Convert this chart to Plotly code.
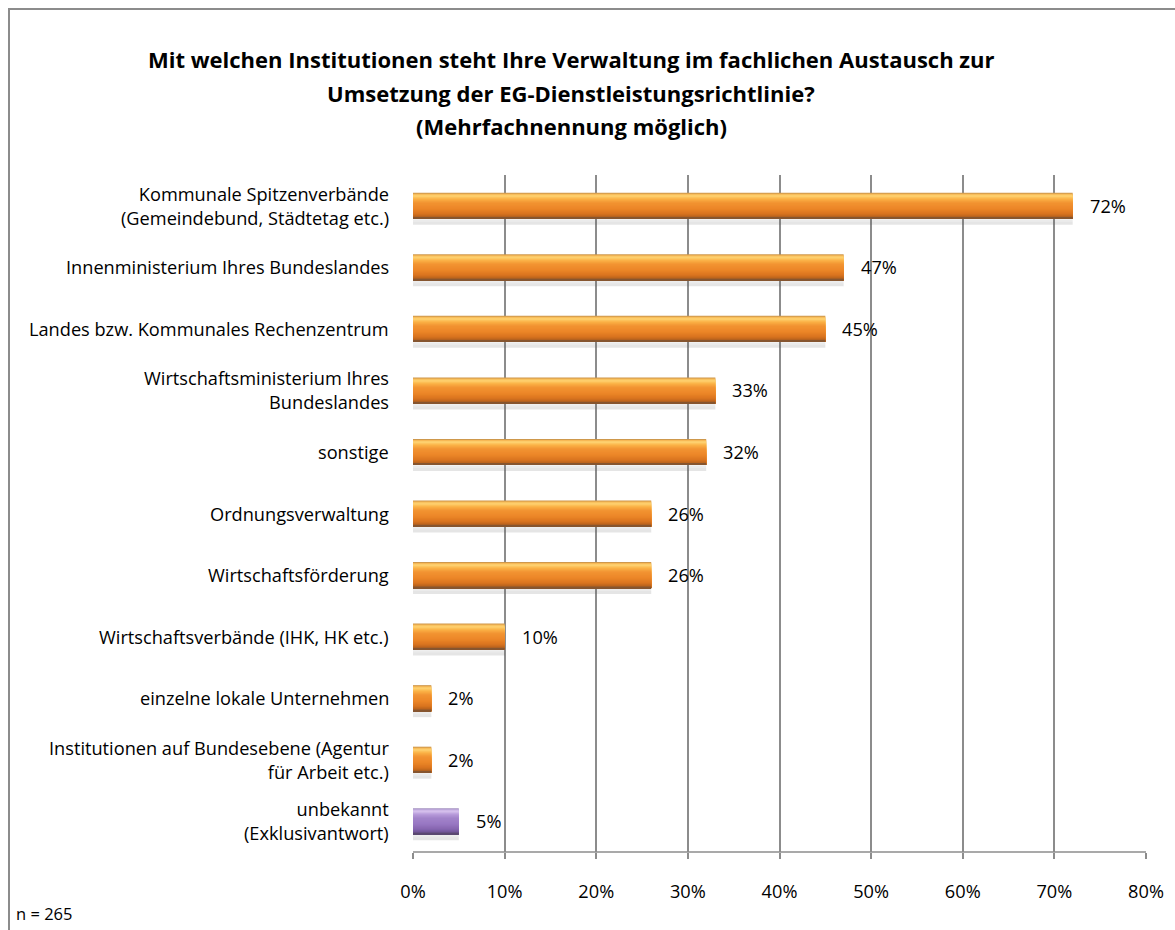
import plotly.graph_objects as go

# ---- data ---------------------------------------------------------------
categories = [
    "Kommunale Spitzenverbände<br>(Gemeindebund, Städtetag etc.)",
    "Innenministerium Ihres Bundeslandes",
    "Landes bzw. Kommunales Rechenzentrum",
    "Wirtschaftsministerium Ihres<br>Bundeslandes",
    "sonstige",
    "Ordnungsverwaltung",
    "Wirtschaftsförderung",
    "Wirtschaftsverbände (IHK, HK etc.)",
    "einzelne lokale Unternehmen",
    "Institutionen auf Bundesebene (Agentur<br>für Arbeit etc.)",
    "unbekannt<br>(Exklusivantwort)",
]
values = [72, 47, 45, 33, 32, 26, 26, 10, 2, 2, 5]
is_exclusive = [False] * 10 + [True]
x_ticks = [0, 10, 20, 30, 40, 50, 60, 70, 80]
x_tick_labels = [f"{t}%" for t in x_ticks]

title_lines = [
    "Mit welchen Institutionen steht Ihre Verwaltung im fachlichen Austausch zur",
    "Umsetzung der EG-Dienstleistungsrichtlinie?",
    "(Mehrfachnennung möglich)",
]
note_text = "n = 265"

# ---- layout geometry (pixels) -------------------------------------------
W, H = 1175, 930
PL, PR, PT, PB = 413, 1146, 175, 852          # plot area edges
FONT = "Open Sans"
LABEL_SIZE = 18.2
GRID = "#8C8C8C"

def px_x(px):
    return (px - PL) / (PR - PL)

def px_y(py):
    return (PB - py) / (PB - PT)

n = len(categories)
slot = (PB - PT) / n          # pixels per category
bar_px = 26                   # bar thickness in pixels

# colour stops across the bar thickness (px from top edge) for a glossy look
orange_stops = [(0, "#A8834F"), (1, "#F4AE4A"), (3, "#FFD676"), (6, "#FBB347"),
                (10, "#F29332"), (16, "#EC8627"), (21, "#D9741F"), (24, "#B8621C"),
                (25, "#86552F")]
purple_stops = [(0, "#8E80A8"), (1, "#BCA3DA"), (3, "#D9C6F0"), (6, "#B89BDA"),
                (10, "#A283CA"), (16, "#9877C2"), (21, "#8565B0"), (24, "#6F5494"),
                (25, "#5A4870")]

def hex_rgb(h):
    return tuple(int(h[i:i + 2], 16) for i in (1, 3, 5))

def colour_at(stops, p):
    for (p0, c0), (p1, c1) in zip(stops, stops[1:]):
        if p0 <= p <= p1:
            t = (p - p0) / (p1 - p0)
            a, b = hex_rgb(c0), hex_rgb(c1)
            return "rgb(%d,%d,%d)" % tuple(round(a[k] + (b[k] - a[k]) * t) for k in range(3))
    return stops[-1][1]

fig = go.Figure()
ypos = list(range(n))

# soft drop shadow under each bar
for top, alpha in [(25, 0.07), (27, 0.05), (29, 0.04)]:
    fig.add_trace(go.Bar(
        x=values, y=ypos, orientation="h", base=0,
        offset=(top - bar_px / 2) / slot, width=(32 - top) / slot,
        marker=dict(color=f"rgba(90,90,90,{alpha})", line=dict(width=0)),
        hoverinfo="skip", showlegend=False,
    ))

# bar body: each layer reaches to the bottom edge, drawn top-first
for p in range(bar_px):
    fig.add_trace(go.Bar(
        x=values, y=ypos, orientation="h", base=0,
        offset=(p - bar_px / 2) / slot,
        width=(bar_px - p) / slot,
        marker=dict(color=[colour_at(purple_stops if e else orange_stops, p + 0.5)
                           for e in is_exclusive], line=dict(width=0)),
        hoverinfo="skip", showlegend=False,
    ))

annotations = []
# title, one line at a time
for k, line in enumerate(title_lines):
    annotations.append(dict(
        text=line, x=px_x(571), y=px_y(59 + 33.5 * k), xref="paper", yref="paper",
        xanchor="center", yanchor="middle", showarrow=False,
        font=dict(family=FONT, size=22, color="#000000", weight="bold"),
    ))
# category labels
for i, cat in enumerate(categories):
    annotations.append(dict(
        text=cat, x=px_x(391), y=i, xref="paper", yref="y",
        xanchor="right", yanchor="middle", showarrow=False, align="right",
        font=dict(family=FONT, size=LABEL_SIZE, color="#000000"),
    ))
# value labels
for i, v in enumerate(values):
    annotations.append(dict(
        text=f"{v}%", x=v, y=i, xref="x", yref="y",
        xanchor="left", yanchor="middle", xshift=15, showarrow=False,
        font=dict(family=FONT, size=LABEL_SIZE, color="#000000"),
    ))
# sample size note
annotations.append(dict(
    text=note_text, x=px_x(14), y=px_y(913), xref="paper", yref="paper",
    xanchor="left", yanchor="middle", showarrow=False,
    font=dict(family=FONT, size=16.5, color="#000000"),
))

shapes = [
    # outer chart frame
    dict(type="rect", xref="paper", yref="paper",
         x0=px_x(9), x1=px_x(W + 20), y0=px_y(H + 20), y1=px_y(9),
         line=dict(color="#8C8C8C", width=2), layer="below"),
    # value axis baseline
    dict(type="line", xref="paper", yref="paper",
         x0=0, x1=1, y0=0, y1=0, line=dict(color=GRID, width=1.5)),
]

fig.update_layout(
    width=W, height=H,
    margin=dict(l=PL, r=W - PR, t=PT, b=H - PB, pad=0),
    paper_bgcolor="white", plot_bgcolor="white",
    barmode="overlay",
    annotations=annotations,
    shapes=shapes,
    xaxis=dict(
        range=[0, 80], tickvals=x_ticks, ticktext=x_tick_labels,
        showgrid=True, gridcolor=GRID, gridwidth=1.5,
        zeroline=False, showline=False,
        ticks="outside", ticklen=6, tickcolor=GRID, tickwidth=1.5,
        ticklabelstandoff=17,
        tickfont=dict(family=FONT, size=LABEL_SIZE, color="#000000"),
        fixedrange=True,
    ),
    yaxis=dict(
        range=[n - 0.5, -0.5], showgrid=False, zeroline=False,
        showline=False, showticklabels=False, ticks="",
        fixedrange=True,
    ),
)

fig.write_html("out.html")
